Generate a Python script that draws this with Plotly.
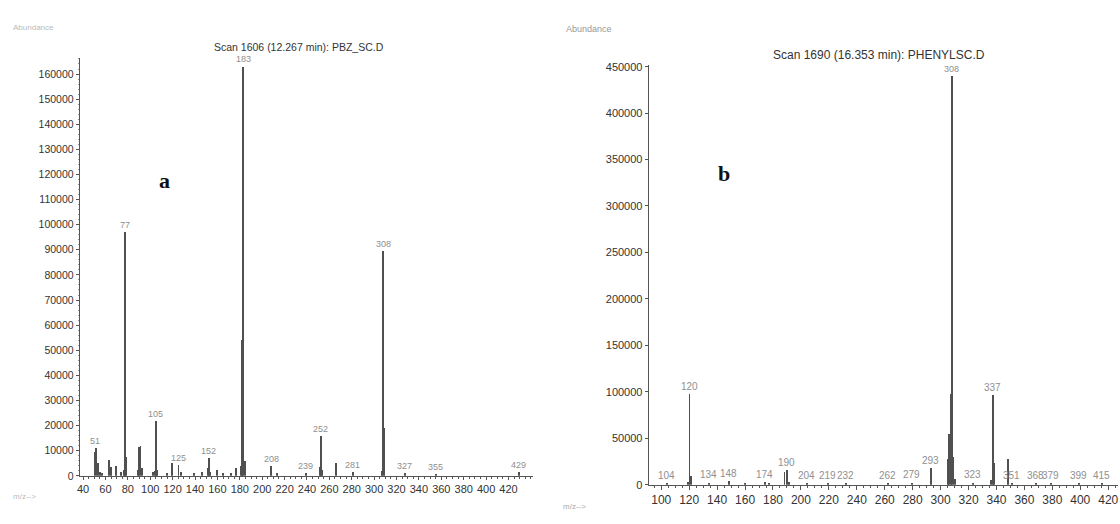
import plotly.graph_objects as go

# ---------------- data: panel a ----------------
mz_a = [50, 51, 53, 55, 57, 63, 65, 69, 74, 76, 77, 78, 89, 90, 91, 92, 102, 104, 105, 106,
        115, 119, 125, 127, 139, 146, 151, 152, 153, 159, 165, 172, 176, 181, 182, 183, 184,
        208, 213, 239, 251, 252, 253, 266, 281, 307, 308, 309, 327, 355, 429]
ab_a = [9500, 11000, 5000, 1500, 1200, 6500, 3500, 4000, 1500, 2500, 97000, 7500, 2500, 11500, 12000, 3000, 1500, 2000, 22000, 2500,
        1200, 5000, 4500, 1500, 1000, 1500, 3000, 7000, 1500, 2500, 1000, 1200, 3000, 4000, 54000, 163000, 6000,
        4000, 1000, 1200, 3500, 16000, 2500, 5000, 1500, 2000, 89500, 19000, 1000, 800, 1500]
labels_a = [51, 77, 105, 125, 152, 183, 208, 239, 252, 281, 308, 327, 355, 429]
yticks_a = list(range(0, 160001, 10000))
xticks_a = list(range(40, 421, 20))

# ---------------- data: panel b ----------------
mz_b = [104, 119, 120, 121, 134, 148, 160, 174, 177, 188, 190, 191, 204, 219, 232, 262, 279, 293,
        305, 306, 307, 308, 309, 310, 323, 336, 337, 338, 348, 351, 368, 379, 399, 415]
ab_b = [2000, 3000, 98000, 9000, 2500, 4000, 1500, 3000, 1500, 14000, 16000, 3000, 2000, 1500, 1500, 1500, 2500, 18000,
        28000, 55000, 98000, 440000, 30000, 6000, 2500, 5000, 97000, 24000, 28000, 2000, 1500, 1500, 1500, 1500]
labels_b = [104, 120, 134, 148, 174, 190, 204, 219, 232, 262, 279, 293, 308, 323, 337, 351, 368, 379, 399, 415]
yticks_b = list(range(0, 450001, 50000))
xticks_b = list(range(100, 421, 20))

title_a = "Scan 1606 (12.267 min): PBZ_SC.D"
title_b = "Scan 1690 (16.353 min): PHENYLSC.D"

W, H = 1120, 524
FONT = "Liberation Sans, Arial, sans-serif"
AX = "#555555"
TXT = "#333333"
BAR = "#505050"

fig = go.Figure()
fig.add_trace(go.Bar(x=mz_a, y=ab_a, width=0.8, marker=dict(color=BAR, line_width=0),
                     xaxis="x", yaxis="y", showlegend=False))
fig.add_trace(go.Bar(x=mz_b, y=ab_b, width=0.7, marker=dict(color=BAR, line_width=0),
                     xaxis="x2", yaxis="y2", showlegend=False))


def px_x(p):
    return p / W


def px_y(p):
    return (H - p) / H


base = dict(showgrid=False, zeroline=False, showline=True, linecolor=AX, linewidth=1,
            ticks="outside", tickcolor=AX)

fig.update_layout(
    width=W, height=H, margin=dict(l=0, r=0, t=0, b=0),
    paper_bgcolor="white", plot_bgcolor="white", bargap=0,
    xaxis=dict(domain=[px_x(77), px_x(532)], range=[37, 442], anchor="y",
               tickvals=xticks_a, ticklen=3, tickwidth=1,
               minor=dict(dtick=5, tick0=0, ticks="outside", ticklen=2, tickcolor=AX),
               tickfont=dict(family=FONT, color=TXT, size=11), **base),
    yaxis=dict(domain=[px_y(481), px_y(55)], range=[0, 166400], anchor="x",
               tickvals=yticks_a, ticktext=[str(v) for v in yticks_a], ticklen=3,
               minor=dict(dtick=2000, ticks="outside", ticklen=1, tickcolor="#999999"),
               tickfont=dict(family=FONT, color=TXT, size=10.5), **base),
    xaxis2=dict(domain=[px_x(648), px_x(1119)], range=[91, 427], anchor="y2",
                tickvals=xticks_b, ticklen=4,
                minor=dict(dtick=5, tick0=0, ticks="outside", ticklen=2, tickcolor=AX),
                tickfont=dict(family=FONT, color=TXT, size=12), **base),
    yaxis2=dict(domain=[px_y(490), px_y(62)], range=[0, 452000], anchor="x2",
                tickvals=yticks_b, ticktext=[str(v) for v in yticks_b], ticklen=3,
                tickfont=dict(family=FONT, color=TXT, size=11), **base),
)

ann = []
ab_a_map = dict(zip(mz_a, ab_a))
for m in labels_a:
    ann.append(dict(x=m, y=ab_a_map[m], xref="x", yref="y", text=str(m), showarrow=False,
                    yanchor="bottom", yshift=0, font=dict(family=FONT, size=9, color="#909090")))
ab_b_map = dict(zip(mz_b, ab_b))
for m in labels_b:
    ann.append(dict(x=m, y=ab_b_map[m], xref="x2", yref="y2", text=str(m), showarrow=False,
                    yanchor="bottom", yshift=0, font=dict(family=FONT, size=10 if m != 308 else 9,
                                                          color="#909090")))

# titles
ann.append(dict(x=px_x(210), y=px_y(44), xref="paper", yref="paper", text=title_a, showarrow=False,
                xanchor="left", yanchor="middle", font=dict(family=FONT, size=10.5, color=TXT)))
ann.append(dict(x=px_x(771), y=px_y(52), xref="paper", yref="paper", text=title_b, showarrow=False,
                xanchor="left", yanchor="middle", font=dict(family=FONT, size=12, color=TXT)))
# panel letters
ann.append(dict(x=px_x(155), y=px_y(165), xref="paper", yref="paper", text="<b>a</b>", showarrow=False,
                font=dict(family="Liberation Serif, Times New Roman, serif", size=22, color="#111111")))
ann.append(dict(x=px_x(724), y=px_y(158), xref="paper", yref="paper", text="<b>b</b>", showarrow=False,
                font=dict(family="Liberation Serif, Times New Roman, serif", size=22, color="#111111")))
# faint axis captions
ann.append(dict(x=px_x(8), y=px_y(17), xref="paper", yref="paper", text="Abundance", showarrow=False,
                xanchor="left", font=dict(family=FONT, size=8, color="#bbbbbb")))
ann.append(dict(x=px_x(563), y=px_y(18), xref="paper", yref="paper", text="Abundance", showarrow=False,
                xanchor="left", font=dict(family=FONT, size=9, color="#999999")))
ann.append(dict(x=px_x(8), y=px_y(509), xref="paper", yref="paper", text="m/z--&gt;", showarrow=False,
                xanchor="left", font=dict(family=FONT, size=8, color="#bbbbbb")))
ann.append(dict(x=px_x(560), y=px_y(519), xref="paper", yref="paper", text="m/z--&gt;", showarrow=False,
                xanchor="left", font=dict(family=FONT, size=8, color="#aaaaaa")))

fig.update_layout(annotations=ann)
fig.write_html("out.html")
